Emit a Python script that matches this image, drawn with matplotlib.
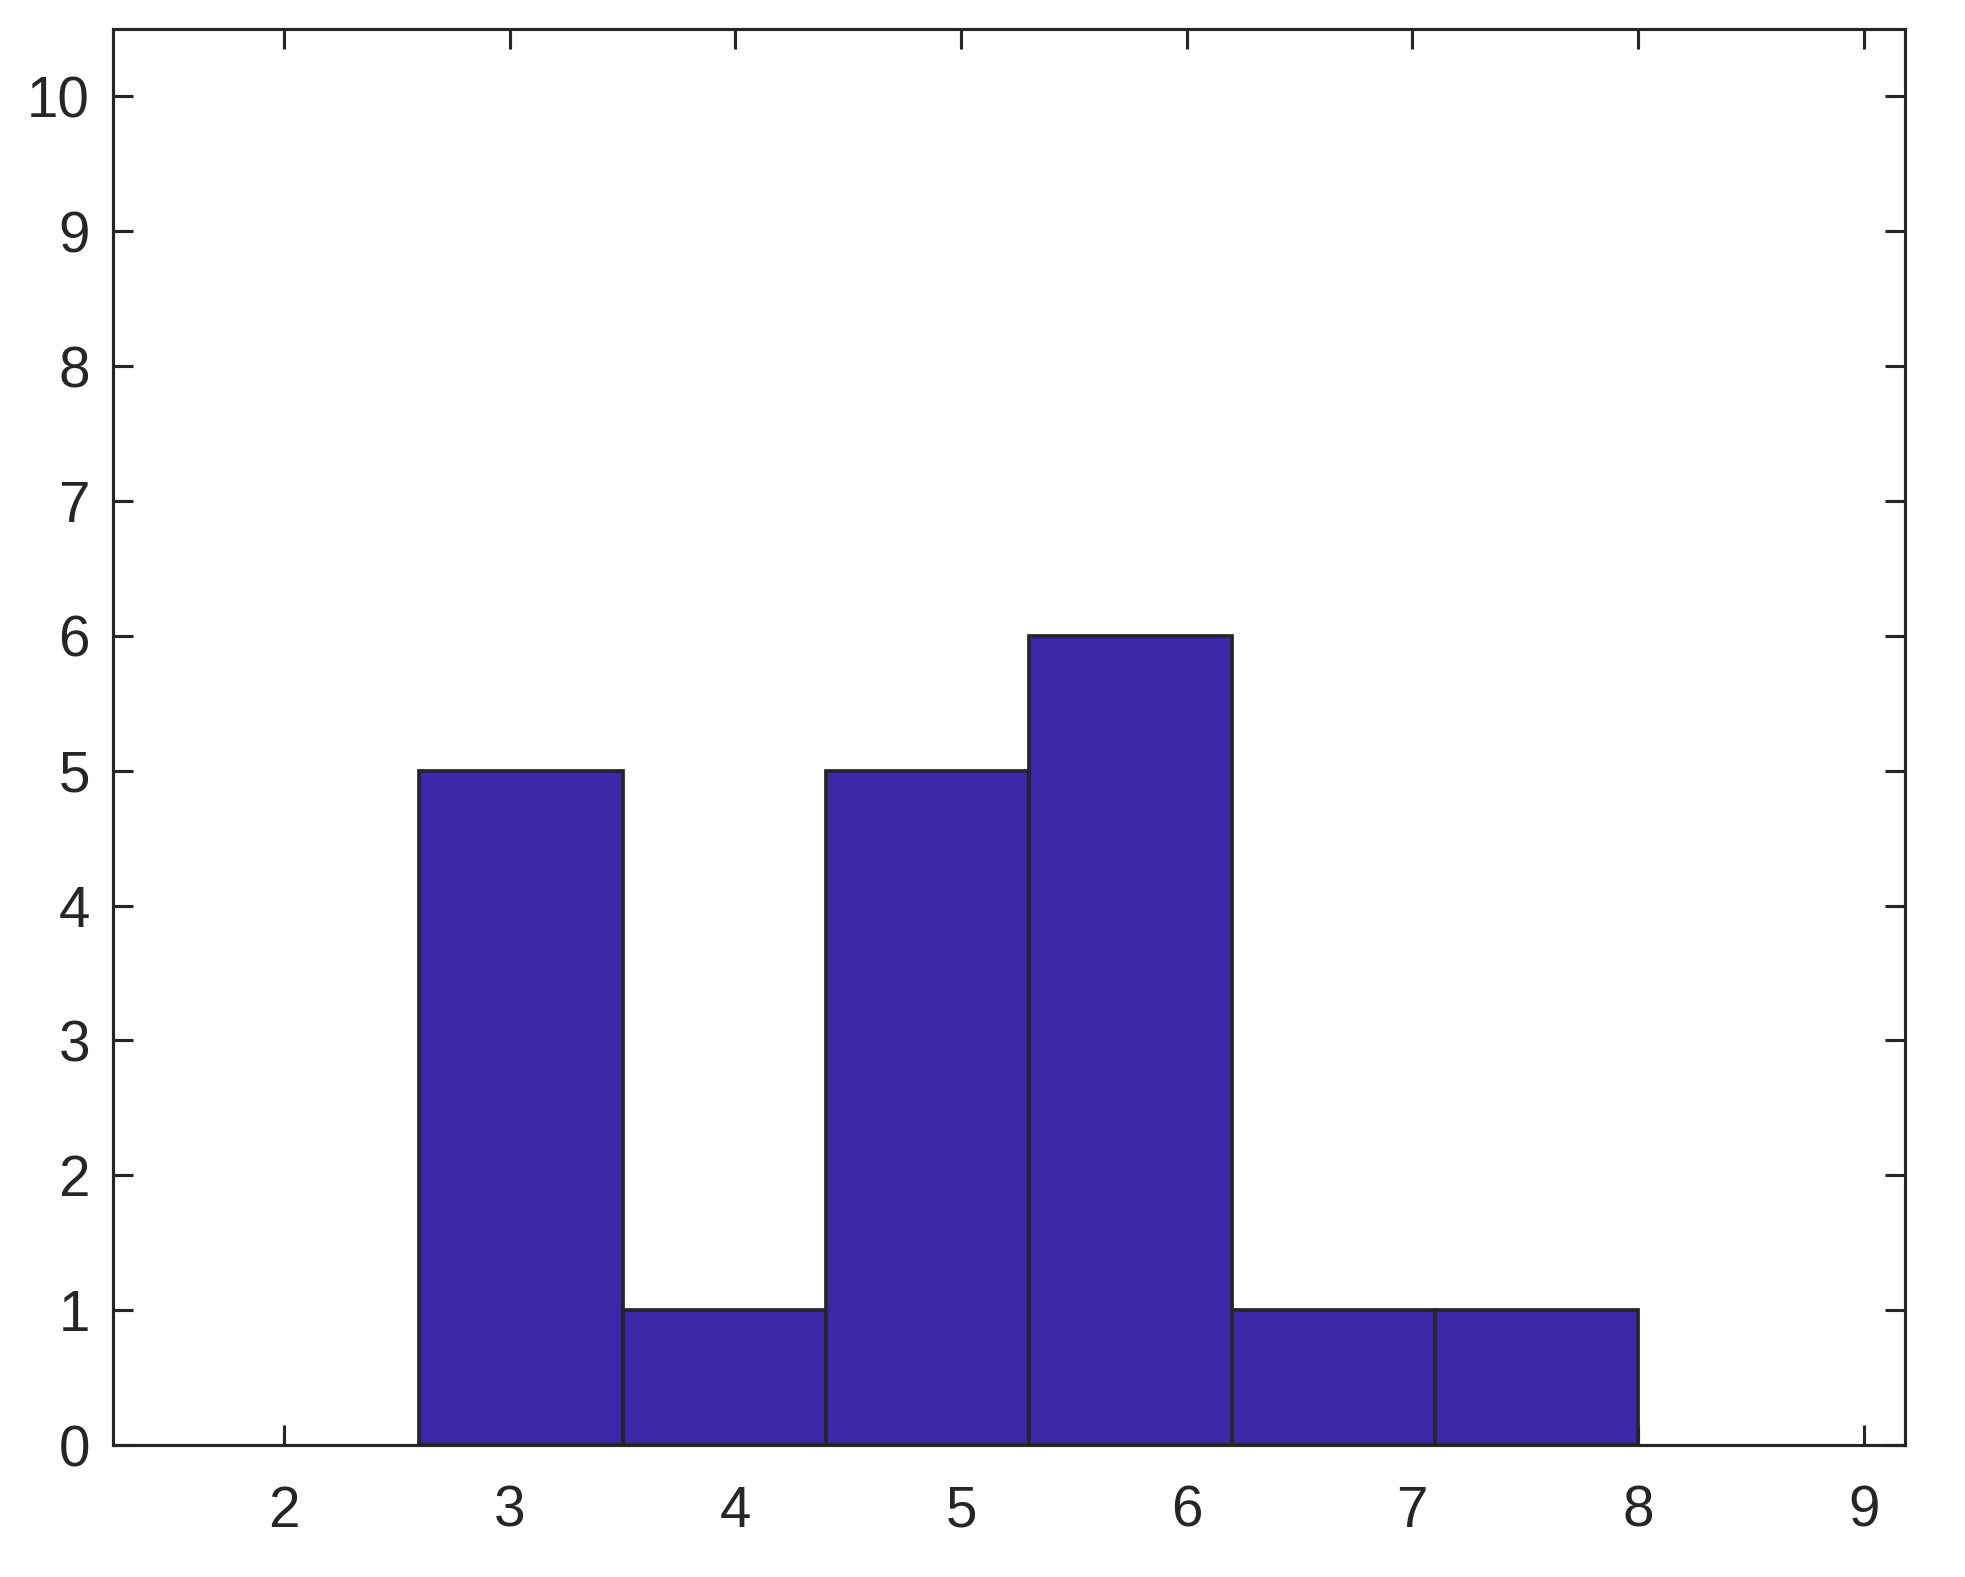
import matplotlib
matplotlib.use("Agg")
import matplotlib.pyplot as plt

bin_edges = [2.6, 3.5, 4.4, 5.3, 6.2, 7.1, 8.0]
counts = [5, 1, 5, 6, 1, 1]
x_ticks = [2, 3, 4, 5, 6, 7, 8, 9]
y_ticks = [0, 1, 2, 3, 4, 5, 6, 7, 8, 9, 10]

plt.rcParams['font.family'] = ['Liberation Sans', 'DejaVu Sans']

dark = '#262626'
fig = plt.figure(figsize=(6.55, 5.2567), dpi=300)
ax = fig.add_axes([113/1965, 1 - 1445/1577, (1905-113)/1965, (1445-29)/1577])

lefts = bin_edges[:-1]
widths = [b - a for a, b in zip(bin_edges[:-1], bin_edges[1:])]
ax.bar(lefts, counts, width=widths, align='edge', color='#3D27A8',
       edgecolor=dark, linewidth=0.9, zorder=2)

ax.set_xlim(1.242, 9.183)
ax.set_ylim(0, 10.5)
ax.set_xticks(x_ticks)
ax.set_yticks(y_ticks)
ax.tick_params(axis='both', direction='in', length=4.8, width=0.75,
               color=dark, labelcolor=dark, labelsize=13.6,
               top=True, right=True)
ax.tick_params(axis='x', pad=9.5)
ax.tick_params(axis='y', pad=5.5)
for s in ax.spines.values():
    s.set_linewidth(0.75)
    s.set_color(dark)
    s.set_zorder(3)

fig.savefig('out.png', dpi=300, facecolor='white')
